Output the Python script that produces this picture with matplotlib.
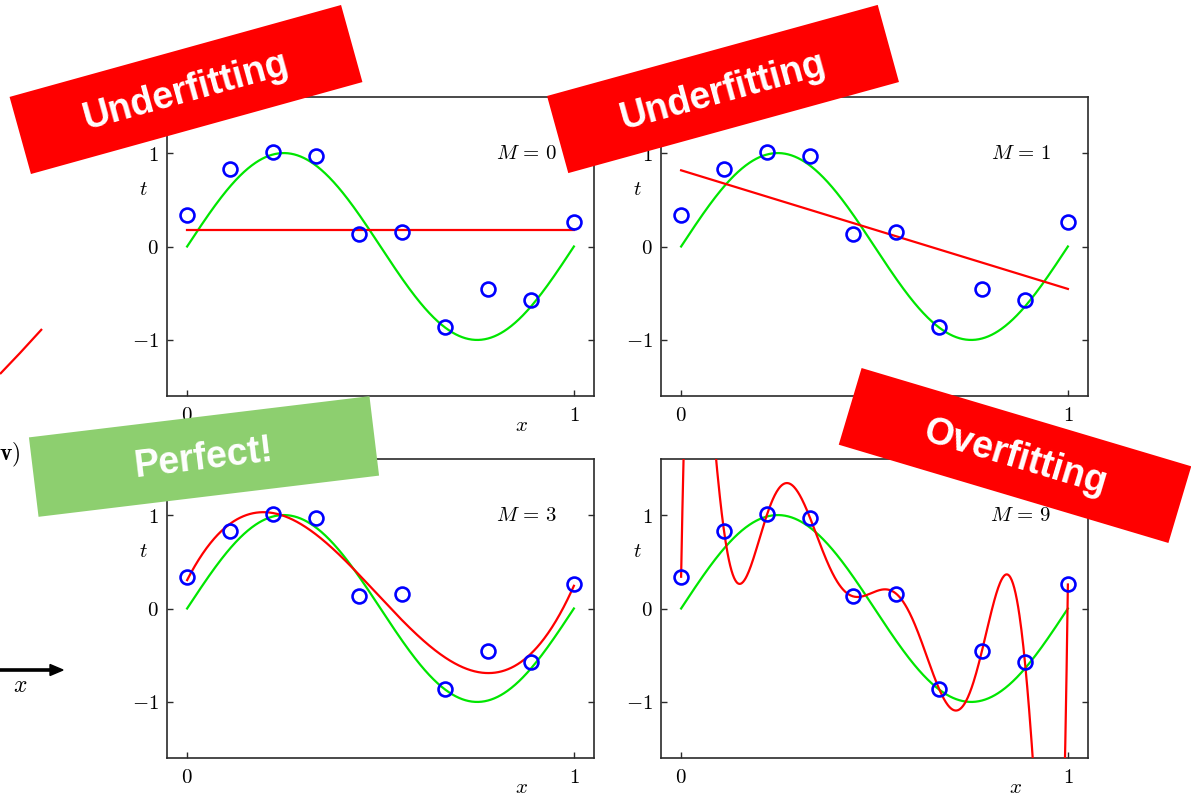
import numpy as np
import matplotlib
matplotlib.use("Agg")
import matplotlib.pyplot as plt
from matplotlib.patches import Polygon, FancyArrow
from numpy.polynomial import Polynomial

plt.rcParams['mathtext.fontset'] = 'cm'
plt.rcParams['font.family'] = ['DejaVu Serif']

# ---- data ----
x_data = [0.0, 1/9, 2/9, 3/9, 4/9, 5/9, 6/9, 7/9, 8/9, 1.0]
t_data = [0.34, 0.825, 1.007, 0.97, 0.13, 0.16, -0.857, -0.454, -0.571, 0.257]
orders = [0, 1, 3, 9]
order_labels = [r'$M\,=\,0$', r'$M\,=\,1$', r'$M\,=\,3$', r'$M\,=\,9$']
x_ticks = [0, 1]
x_ticklabels = ['$0$', '$1$']
y_ticks = [-1, 0, 1]
y_ticklabels = ['$-1$', '$0$', '$1$']

banner_labels = ['Underfitting', 'Underfitting', 'Perfect!', 'Overfitting']
banner_colors = ['#ff0000', '#ff0000', '#8dcf6f', '#ff0000']

GREEN = '#00e600'
RED = '#ff0000'
BLUE = '#0000ff'
SPINE = '#2a2a2a'

W, H = 1191, 800
fig = plt.figure(figsize=(W / 100, H / 100), dpi=100)

# axes positions in pixels: (left, top, right, bottom)
ax_px = [(167, 97, 594, 396), (661, 97, 1088, 396),
         (167, 459, 594, 758), (661, 459, 1088, 758)]

xs = np.linspace(0, 1, 600)
xd = np.array(x_data)
td = np.array(t_data)

for k, (l, tp, r, b) in enumerate(ax_px):
    ax = fig.add_axes([l / W, 1 - b / H, (r - l) / W, (b - tp) / H])
    ax.plot(xs, np.sin(2 * np.pi * xs), color=GREEN, lw=1.6, zorder=2)
    if orders[k] == 0:
        fit_y = np.full_like(xs, td.mean())
    else:
        p = Polynomial.fit(xd, td, orders[k])
        fit_y = p(xs)
    ax.plot(xs, fit_y, color=RED, lw=1.6, zorder=3)
    ax.plot(xd, td, 'o', mfc='none', mec=BLUE, ms=10, mew=1.9, zorder=4)
    ax.set_xlim(-0.052, 1.052)
    ax.set_ylim(-1.6, 1.6)
    ax.set_xticks(x_ticks)
    ax.set_xticklabels(x_ticklabels)
    ax.set_yticks(y_ticks)
    ax.set_yticklabels(y_ticklabels)
    ax.tick_params(direction='in', length=4, width=1, color=SPINE,
                   labelsize=15, right=True, top=False)
    ax.tick_params(axis='y', pad=6)
    ax.tick_params(axis='x', pad=7)
    for s in ax.spines.values():
        s.set_color(SPINE)
        s.set_linewidth(1.2)
    ax.text(0.957, 1.0, order_labels[k], ha='right', va='center', fontsize=15)
    ax.text(-0.056, 0.69, '$t$', transform=ax.transAxes, ha='center',
            va='center', fontsize=15)
    ax.text(0.83, -0.097, '$x$', transform=ax.transAxes, ha='center',
            va='center', fontsize=15)

# ---- overlay (pixel coordinates) ----
ov = fig.add_axes([0, 0, 1, 1], zorder=10)
ov.set_xlim(0, W)
ov.set_ylim(H, 0)
ov.axis('off')
ov.patch.set_alpha(0)

# fragments from neighbouring slide on the left edge
frag_x = np.array([0, 20, 42])
frag_y = np.array([374, 353, 329])
ov.plot(frag_x, frag_y, color=RED, lw=1.6, solid_capstyle='butt')
ov.text(20, 455, r'$\mathbf{v})$', ha='right', va='center', fontsize=17)
ov.add_patch(FancyArrow(-2, 670, 65, 0, width=2.2, head_width=11,
                        head_length=13, length_includes_head=True,
                        color='black'))
ov.text(20, 685, '$x$', ha='center', va='center', fontsize=17)

# banners: center, width, height, angle (deg, ccw)
banner_geom = [((186, 89.5), 344, 80, 15.5),
               ((723, 89), 343, 80, 15.4),
               ((204, 456.5), 343, 80, 6.9),
               ((1015, 455.5), 344, 80, -16.6)]
for (c, bw, bh, ang), lab, col in zip(banner_geom, banner_labels, banner_colors):
    a = np.deg2rad(ang)
    u = np.array([np.cos(a), -np.sin(a)])   # along (y down)
    v = np.array([np.sin(a), np.cos(a)])    # perpendicular (down)
    cc = np.array(c)
    pts = [cc - u * bw / 2 - v * bh / 2, cc + u * bw / 2 - v * bh / 2,
           cc + u * bw / 2 + v * bh / 2, cc - u * bw / 2 + v * bh / 2]
    ov.add_patch(Polygon(pts, closed=True, facecolor=col, edgecolor='none'))
    ov.text(c[0], c[1] + 2, lab, rotation=ang, rotation_mode='anchor',
            ha='center', va='center', color='white', fontsize=27,
            fontweight='bold', family=['Liberation Sans', 'DejaVu Sans'])

fig.savefig('out.png', dpi=100)
